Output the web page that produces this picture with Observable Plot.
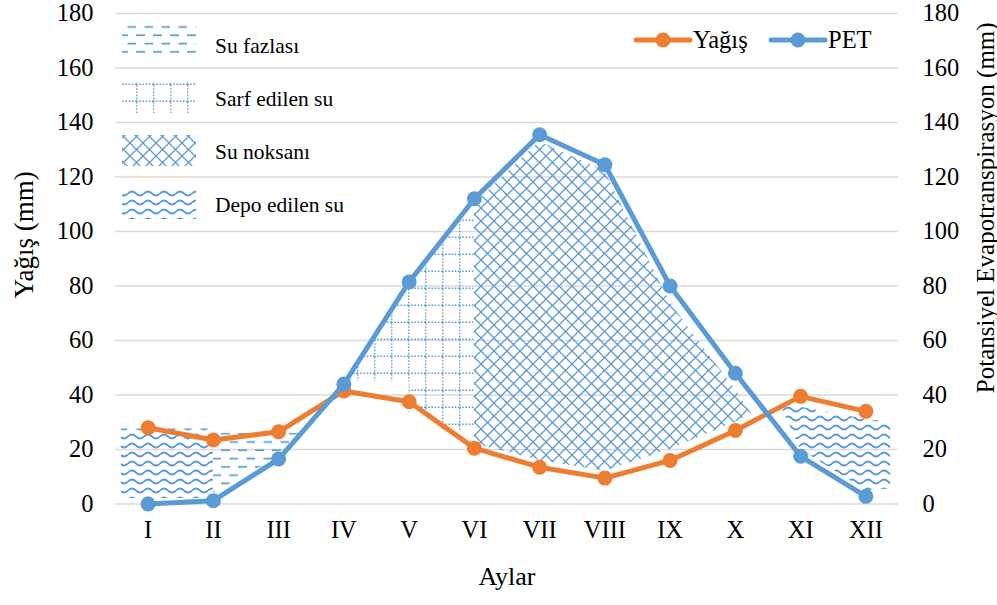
<!DOCTYPE html>
<html>
<head>
<meta charset="utf-8">
<script src="https://cdn.jsdelivr.net/npm/d3@7"></script>
<script src="https://cdn.jsdelivr.net/npm/@observablehq/plot@0.6"></script>
<style>
  body { margin: 0; background: #fff; }
  #chart { width: 997px; height: 605px; }
  #chart svg text { font-family: "Liberation Serif", "Times New Roman", serif; }
</style>
</head>
<body>
<div id="chart"></div>
<script>
// ---- data ----
const months = ["I", "II", "III", "IV", "V", "VI", "VII", "VIII", "IX", "X", "XI", "XII"];
const yagis = [28, 23.5, 26.5, 41.5, 37.5, 20.5, 13.5, 9.5, 16, 27, 39.5, 34];
const pet = [0, 1.2, 16.5, 44, 81.5, 112, 135.5, 124.5, 80, 48, 17.5, 2.8];
const yTicks = [0, 20, 40, 60, 80, 100, 120, 140, 160, 180];

// patterned water-balance regions (m = month position, lo/hi = mm)
const depoJanFeb = [{m: 0.59, lo: 2, hi: 27.5}, {m: 2.0, lo: 2, hi: 27.5}];
const fazlaFebMar = [{m: 2.0, lo: 4, hi: 26}, {m: 3.0, lo: 17, hi: 26}, {m: 3.34, lo: 26, hi: 26}];
const sarfAprJun = [
  {m: 4.1, lo: 45, hi: 47}, {m: 5.0, lo: 45, hi: 79}, {m: 5.0, lo: 33, hi: 79},
  {m: 5.5, lo: 33, hi: 95}, {m: 5.5, lo: 27, hi: 95}, {m: 6.0, lo: 27, hi: 110}
];
const noksanJunOct = [
  {m: 6.0, lo: 22, hi: 110}, {m: 7.0, lo: 16, hi: 133}, {m: 8.0, lo: 12, hi: 122},
  {m: 9.0, lo: 20, hi: 74}, {m: 9.3, lo: 23, hi: 64}, {m: 10.0, lo: 30, hi: 42}, {m: 10.25, lo: 33, hi: 33}
];
const depoNovDec = [
  {m: 10.72, lo: 35, hi: 36}, {m: 11.0, lo: 20, hi: 35.5}, {m: 12.0, lo: 5, hi: 31}, {m: 12.38, lo: 5.5, hi: 30}
];

const legendPatterns = [
  {id: "pFazla", label: "Su fazlası"},
  {id: "pSarf", label: "Sarf edilen su"},
  {id: "pNoksan", label: "Su noksanı"},
  {id: "pDepo", label: "Depo edilen su"}
];
const seriesLegend = [
  {label: "Yağış", color: "#ED7D31"},
  {label: "PET", color: "#5B9BD5"}
];

const table = months.map((name, i) => ({m: i + 1, name, yagis: yagis[i], pet: pet[i]}));
const ORANGE = "#ED7D31", BLUE = "#5B9BD5";
const FONT = '"Liberation Serif", "Times New Roman", serif';

const svg = Plot.plot({
  width: 997,
  height: 605,
  marginTop: 13,
  marginRight: 99,
  marginBottom: 101.5,
  marginLeft: 115,
  style: {fontFamily: FONT, fontSize: "24px", color: "#000", background: "#fff", overflow: "visible"},
  x: {type: "linear", domain: [0.5, 12.5]},
  y: {domain: [0, 180]},
  marks: [
    Plot.gridY(yTicks, {stroke: "#d9d9d9", strokeOpacity: 1, strokeWidth: 1.5}),
    Plot.areaY(depoJanFeb, {x: "m", y1: "lo", y2: "hi", fill: "url(#pDepo)"}),
    Plot.areaY(fazlaFebMar, {x: "m", y1: "lo", y2: "hi", fill: "url(#pFazla)"}),
    Plot.areaY(sarfAprJun, {x: "m", y1: "lo", y2: "hi", fill: "url(#pSarf)"}),
    Plot.areaY(noksanJunOct, {x: "m", y1: "lo", y2: "hi", fill: "url(#pNoksan)"}),
    Plot.areaY(depoNovDec, {x: "m", y1: "lo", y2: "hi", fill: "url(#pDepo)"}),
    Plot.axisX({ticks: table.map(d => d.m), tickFormat: i => months[i - 1], tickSize: 0, tickPadding: 16.5, fontSize: 24.5, label: null}),
    Plot.axisY({anchor: "left", ticks: yTicks, tickSize: 0, tickPadding: 22, fontSize: 24.5, label: null}),
    Plot.axisY({anchor: "right", ticks: yTicks, tickSize: 0, tickPadding: 24, fontSize: 24.5, label: null}),
    Plot.line(table, {x: "m", y: "yagis", stroke: ORANGE, strokeWidth: 5, strokeLinejoin: "round", strokeLinecap: "round"}),
    Plot.dot(table, {x: "m", y: "yagis", r: 7.5, fill: ORANGE, stroke: null}),
    Plot.line(table, {x: "m", y: "pet", stroke: BLUE, strokeWidth: 5, strokeLinejoin: "round", strokeLinecap: "round"}),
    Plot.dot(table, {x: "m", y: "pet", r: 7.5, fill: BLUE, stroke: null}),
    Plot.text(["Aylar"], {frameAnchor: "bottom", dy: 81, fontSize: 26, fill: "#000", fontFamily: FONT}),
    Plot.text(["Yağış (mm)"], {frameAnchor: "left", textAnchor: "middle", dx: -91, dy: -24, rotate: -90, fontSize: 27, fill: "#000", fontFamily: FONT}),
    Plot.text(["Potansiyel Evapotranspirasyon (mm)"], {frameAnchor: "right", textAnchor: "middle", dx: 87, dy: -51, rotate: -90, fontSize: 25, fill: "#000", fontFamily: FONT})
  ]
});

const s = d3.select(svg);
s.insert("defs", ":first-child").html(`
  <pattern id="pFazla" patternUnits="userSpaceOnUse" width="17" height="16.6">
    <path d="M0 2H9 M8.5 10.3H17" stroke="${BLUE}" stroke-width="1.8" fill="none"/>
  </pattern>
  <pattern id="pSarf" patternUnits="userSpaceOnUse" width="17" height="17">
    <path d="M0.75 0V17 M0 16.25H17" stroke="${BLUE}" stroke-width="1.3" stroke-dasharray="1.6 1.6" fill="none"/>
  </pattern>
  <pattern id="pNoksan" patternUnits="userSpaceOnUse" width="13" height="13">
    <path d="M0 0L13 13 M13 0L0 13" stroke="${BLUE}" stroke-width="1.3" fill="none"/>
  </pattern>
  <pattern id="pDepo" patternUnits="userSpaceOnUse" width="16" height="9">
    <path d="M0 4.5 Q4 0.5 8 4.5 T16 4.5" stroke="${BLUE}" stroke-width="1.8" fill="none"/>
  </pattern>
`);

// pattern legend (top-left)
const lg = s.append("g").attr("text-anchor", "start").style("font-family", FONT).style("font-size", "21.5px").attr("fill", "#000");
const swatchTop = [23, 82, 135, 188];
const textBase = [52.7, 106, 159.3, 211.7];
legendPatterns.forEach((p, i) => {
  lg.append("rect").attr("x", 122).attr("y", swatchTop[i]).attr("width", 74).attr("height", 31)
    .attr("fill", "#fff");
  lg.append("rect").attr("x", 122).attr("y", swatchTop[i]).attr("width", 74).attr("height", 31)
    .attr("fill", `url(#${p.id})`);
  lg.append("text").attr("x", 215).attr("y", textBase[i]).attr("text-anchor", "start")
    .style("font-family", FONT).style("font-size", "21.5px").text(p.label);
});

// series legend (top-right)
const sl = s.append("g").attr("text-anchor", "start").style("font-family", FONT).style("font-size", "24.5px").attr("fill", "#000");
const lx = [636, 771];
seriesLegend.forEach((d, i) => {
  sl.append("line").attr("x1", lx[i]).attr("x2", lx[i] + 54).attr("y1", 40).attr("y2", 40)
    .attr("stroke", d.color).attr("stroke-width", 5).attr("stroke-linecap", "round");
  sl.append("circle").attr("cx", lx[i] + 27).attr("cy", 40).attr("r", 7.5).attr("fill", d.color);
  sl.append("text").attr("x", lx[i] + 57).attr("y", 48).attr("text-anchor", "start")
    .style("font-family", FONT).style("font-size", "24.5px").text(d.label);
});

document.getElementById("chart").appendChild(svg);
</script>
</body>
</html>
